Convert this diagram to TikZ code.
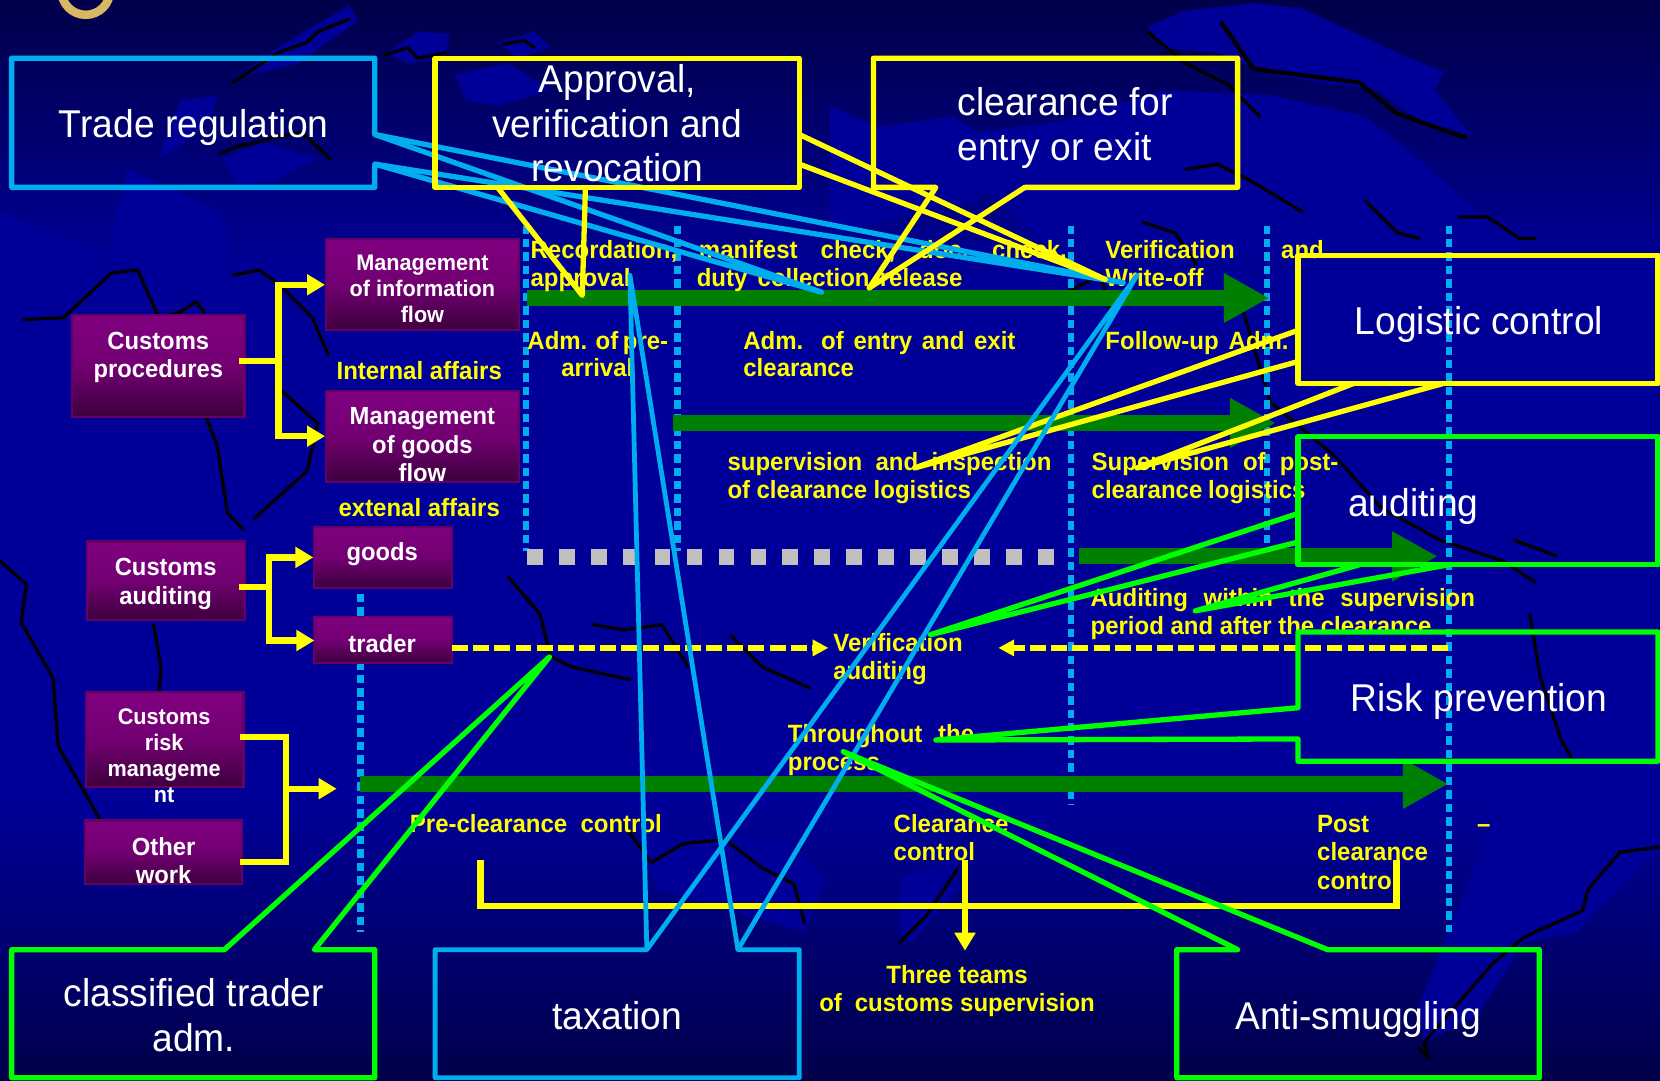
\documentclass[tikz,border=0pt]{standalone}
\usepackage{fontspec}
\setmainfont{Liberation Sans}[FakeStretch=0.96]
\usetikzlibrary{arrows.meta}
\definecolor{bgdark}{HTML}{00004A}
\definecolor{bgmid}{HTML}{000099}
\definecolor{land}{HTML}{000099}
\definecolor{cyanb}{HTML}{00AEEF}
\definecolor{limeg}{HTML}{00FF00}
\definecolor{arrowg}{HTML}{008000}
\definecolor{yel}{HTML}{FFFF00}
\definecolor{ptop}{HTML}{800080}
\definecolor{pbot}{HTML}{3D003D}
\definecolor{pedge}{HTML}{660066}
\definecolor{gold}{HTML}{D8B860}
\pgfdeclareverticalshading{bgsh}{100bp}{color(0bp)=(bgdark); color(25bp)=(bgdark); color(38bp)=(bgmid); color(62bp)=(bgmid); color(75bp)=(bgdark); color(100bp)=(bgdark)}
\tikzset{
  x=1pt,y=-1pt,
  pbox/.style={draw=pedge,line width=2pt,top color=ptop,bottom color=pbot,middle color=ptop!80!pbot,inner sep=0pt},
  ptext/.style={text=white,font=\fontsize{21.3}{24.5}\selectfont\bfseries,align=center,inner sep=0pt},
  ptextb/.style={ptext,font=\fontsize{23.4}{26.5}\selectfont\bfseries},
  ylab/.style={text=yel,font=\fontsize{23.6}{27}\selectfont\bfseries,anchor=base west,inner sep=0pt},
  yctr/.style={text=yel,font=\fontsize{23.6}{26.5}\selectfont\bfseries,align=center,inner sep=0pt},
  boxtext/.style={text=white,font=\fontsize{36.6}{42}\selectfont,align=center,inner sep=0pt},
  callY/.style={draw=yel,line width=5pt,line join=round},
  callC/.style={draw=cyanb,line width=5pt,line join=round},
  callG/.style={draw=limeg,line width=5pt,line join=round},
  dots/.style={draw=cyanb,line width=6pt,dash pattern=on 8pt off 4.7pt},
  greenarrow/.style={draw=arrowg,line width=15pt,-{Triangle[length=43pt,width=44pt]}},
  conn/.style={draw=yel,line width=6pt,line join=miter},
  connarrow/.style={draw=yel,line width=6pt,-{Triangle[length=17pt,width=19pt]}},
  dasharrow/.style={draw=yel,line width=5pt,dash pattern=on 15pt off 5pt,-{Triangle[length=15pt,width=15pt]}},
  landp/.style={fill=land,draw=none},
  shadow/.style={draw=black,line width=3pt,line join=round,line cap=round},
}
% label stretched to a given width
\newcommand{\lab}[5]{\node[ylab,yshift=-8pt] (#1) at (#2,#3) {\makebox[#4pt][s]{#5}};}
\begin{document}
\begin{tikzpicture}
\useasboundingbox (0,0) rectangle (1568,1021);
\clip (0,0) rectangle (1568,1021);
\shade[shading=bgsh] (0,0) rectangle (1568,1021);
% ---- world map
\fill[landp] (220,76)--(262,45)--(330,5)--(338,20)--(312,38)--(282,60)--(228,72)--cycle;
\fill[landp] (365,50)--(395,30)--(425,32)--(420,55)--(385,60)--cycle;
\fill[landp] (470,40)--(505,30)--(520,45)--(490,55)--cycle;
\fill[landp] (170,95)--(205,90)--(200,110)--(175,135)--(150,150)--cycle;
\fill[landp] (210,150)--(250,135)--(300,150)--(260,170)--(225,175)--cycle;
\fill[landp] (430,70)--(480,60)--(520,85)--(470,100)--(440,95)--cycle;
\fill[landp] (100,240)--(60,300)--(0,330)--(0,200)--cycle;
\fill[landp] (120,160)--(210,200)--(230,290)--(100,240)--cycle;
\fill[landp] (784,100)--(830,120)--(900,110)--(960,150)--(920,190)--(850,205)--(784,220)--cycle;
\fill[landp] (1084,25)--(1120,10)--(1184,3)--(1230,8)--(1320,50)--(1364,68)--(1355,85)--(1389,127)--(1350,120)--(1300,85)--(1250,78)--(1200,70)--(1150,50)--(1100,45)--cycle;
\fill[landp] (920,125)--(1000,115)--(1100,85)--(1200,90)--(1290,110)--(1340,150)--(1400,205)--(1450,220)--(1430,240)--(1200,240)--(1000,240)--(930,180)--cycle;
\fill[landp] (1484,640)--(1568,560)--(1568,800)--(1490,880)--(1440,890)--(1395,960)--(1345,985)--(1340,950)--(1400,800)--(1450,680)--cycle;
\fill[landp] (850,830)--(905,810)--(905,840)--(860,890)--(850,880)--cycle;
\fill[landp] (600,780)--(650,790)--(740,790)--(780,830)--(760,880)--(620,840)--cycle;
\draw[shadow] (220,78)--(262,50)--(290,40)--(300,30)--(330,18);
\draw[shadow] (363,52)--(385,45)--(395,55)--(420,50);
\draw[shadow] (475,42)--(495,38)--(505,45);
\draw[shadow] (208,145)--(225,138)--(240,135)--(258,130)--(285,125)--(312,150);
\draw[shadow] (22,302)--(60,300)--(105,258)--(130,255)--(150,300)--(170,295)--(185,285)--(193,295);
\draw[shadow] (195,395)--(205,420)--(215,485)--(230,500);
\draw[shadow] (220,260)--(245,255)--(265,270)--(295,300)--(310,335);
\draw[shadow] (265,368)--(300,400)--(290,445)--(240,490);
\draw[shadow] (0,530)--(25,552)--(20,588)--(50,640)--(55,705)--(95,775);
\draw[shadow] (145,590)--(152,630)--(150,660);
\draw[shadow] (480,545)--(510,580)--(520,620)--(540,630)--(595,642);
\draw[shadow] (590,780)--(615,815)--(645,797)--(685,793)--(720,820)--(750,835)--(760,872);
\draw[shadow] (560,590)--(590,595)--(625,590)--(650,630);
\draw[shadow] (690,600)--(720,630)--(765,650);
\draw[shadow] (850,890)--(875,865)--(905,820);
\draw[shadow,line width=4pt] (1154,22)--(1184,65)--(1284,78)--(1319,107)--(1384,130);
\draw[shadow] (1084,30)--(1120,60)--(1160,80)--(1190,110);
\draw[shadow] (1120,160)--(1150,155)--(1180,170)--(1230,200);
\draw[shadow] (1290,190)--(1320,220)--(1340,225);
\draw[shadow] (1378,205)--(1405,205)--(1435,225)--(1450,225);
\draw[shadow] (1174,293)--(1200,380)--(1260,430)--(1305,480)--(1360,510)--(1420,530)--(1450,550);
\draw[shadow] (1430,510)--(1470,525);
\draw[shadow] (1445,580)--(1455,640)--(1475,700)--(1484,715);
\draw[shadow] (1568,800)--(1530,805)--(1500,840)--(1495,860)--(1440,885)--(1410,910)--(1345,985)--(1350,1000)--(1340,990);
\draw[shadow] (1080,210)--(1110,220)--(1130,250);
\draw[shadow] (1000,280)--(1040,260)--(1050,300);
% gold ring
\draw[gold,line width=8pt] (81,-9) circle (23);
% ---- dotted verticals
\coordinate (d1a) at (497,213); \coordinate (d1b) at (497,520);
\coordinate (d2a) at (640,213); \coordinate (d2b) at (640,520);
\coordinate (d3a) at (1011.5,213); \coordinate (d3b) at (1011.5,760);
\coordinate (d4a) at (1197,213); \coordinate (d4b) at (1197,515);
\coordinate (d5a) at (1368.5,213); \coordinate (d5b) at (1368.5,880);
\coordinate (d6a) at (340.5,561); \coordinate (d6b) at (340.5,880);
\draw[dots] (d1a)--(d1b);
\draw[dots] (d2a)--(d2b);
\draw[dots] (d3a)--(d3b);
\draw[dots] (d4a)--(d4b);
\draw[dots] (d5a)--(d5b);
\draw[dots] (d6a)--(d6b);
% ---- green arrows
\coordinate (g1a) at (498,281.5); \coordinate (g1b) at (1199,281.5);
\coordinate (g2a) at (636,399.5); \coordinate (g2b) at (1205,399.5);
\coordinate (g3a) at (1019,525.5); \coordinate (g3b) at (1358,525.5);
\coordinate (g4a) at (340,740.5); \coordinate (g4b) at (1368,740.5);
\draw[greenarrow] (g1a)--(g1b);
\draw[greenarrow] (g2a)--(g2b);
\draw[greenarrow] (g3a)--(g3b);
\draw[greenarrow] (g4a)--(g4b);
% grey squares
\coordinate (sqa) at (497.5,526); \coordinate (sqb) at (996,526);
\draw[draw={rgb,255:red,192;green,192;blue,192},line width=14.5pt,dash pattern=on 15pt off 15.2pt] (sqa)--(sqb);
% ---- purple boxes
\node[pbox,minimum width=163pt,minimum height=96pt] (proc) at (149.5,345.5) {};
\node[pbox,minimum width=182pt,minimum height=86pt] (info) at (399,269) {};
\node[pbox,minimum width=182pt,minimum height=86pt] (gflow) at (399,412) {};
\node[pbox,minimum width=148.5pt,minimum height=74pt] (audit) at (156.8,548.5) {};
\node[pbox,minimum width=130pt,minimum height=57pt] (goods) at (362,526.5) {};
\node[pbox,minimum width=130pt,minimum height=43pt] (trader) at (362,604.5) {};
\node[pbox,minimum width=149pt,minimum height=89pt] (risk) at (155.5,698.5) {};
\node[pbox,minimum width=149pt,minimum height=60pt] (other) at (154.5,805) {};
\node[ptextb] (tproc) at (149.5,337.5) {Customs\\procedures};
\node[ptext] (tinfo) at (399,272.5) {Management\\of information\\flow};
\node[ptextb,font=\fontsize{23.4}{27}\selectfont\bfseries] (tgflow) at (399,420) {Management\\of goods\\flow};
\node[ptextb,font=\fontsize{23.4}{27}\selectfont\bfseries] (taudit) at (156.5,551.5) {Customs\\auditing};
\node[ptextb] (tgoods) at (361,523.5) {goods};
\node[ptextb] (ttrader) at (361,607.5) {trader};
\node[ptext] (trisk) at (155,713.5) {Customs\\risk\\manageme\\nt};
\node[ptextb] (tother) at (154.5,813) {Other\\work};
% ---- yellow labels
\node[yctr] (intl) at (396,350) {Internal affairs};
\node[yctr] (extl) at (396,479.5) {extenal affairs};
\lab{l1}{501}{236}{138}{Recordation,}
\lab{l2}{660}{236}{91}{manifest}
\lab{l3}{775}{236}{70}{check,}
\lab{l4}{868}{236}{42}{doc.}
\lab{l5}{937}{236}{66}{check.}
\lab{l6}{1044}{236}{123}{Verification}
\lab{l7}{1210}{236}{40}{and}
\lab{l8}{501}{263}{96}{approval}
\lab{l9}{658}{263}{251}{duty collection release}
\lab{l10}{1044}{263}{93}{Write-off}
\lab{l11}{498}{322}{133}{Adm. of pre-}
\lab{l12}{530}{348}{66}{arrival}
\lab{l13}{702}{322}{257}{Adm.  of  entry  and  exit}
\lab{l14}{702}{348}{104}{clearance}
\lab{l15}{1044}{322}{173}{Follow-up  Adm.}
\lab{l16}{687}{436}{306}{supervision  and  inspection}
\lab{l17}{687}{463}{230}{of clearance logistics}
\lab{l18}{1031}{436}{233}{Supervision  of  post-}
\lab{l19}{1031}{463}{202}{clearance logistics}
\lab{l20}{1030}{565}{363}{Auditing  within  the  supervision}
\lab{l21}{1030}{591}{322}{period and after the clearance}
\lab{l22}{787}{607}{123}{Verification}
\lab{l23}{787}{634}{88}{auditing}
\lab{l24}{744}{693}{176}{Throughout  the}
\lab{l25}{744}{720}{86}{process}
\lab{l26}{387}{778}{238}{Pre-clearance  control}
\lab{l27}{844}{778}{108}{Clearance}
\lab{l28}{844}{805}{76}{control}
\lab{l29}{1244}{778}{49}{Post}
\lab{l30}{1395}{778}{13}{–}
\lab{l31}{1244}{805}{104}{clearance}
\lab{l32}{1244}{832}{74}{control}
\node[yctr] (teams) at (904,936) {Three teams\\of\hspace{6pt} customs supervision};
% ---- yellow connectors
\coordinate (j1) at (263,341);
\coordinate (j2) at (254,554.5);
\coordinate (j3) at (270,696);
\coordinate (j4) at (270,814);
\coordinate (j5) at (270,745);
\coordinate (rtip) at (318,745);
\draw[conn] (226,341)--(j1);
\draw[connarrow] (j1)|-(info.west);
\draw[connarrow] (j1)|-(gflow.west);
\draw[conn] (226,554.5)--(j2);
\draw[connarrow] (j2)|-(goods.west);
\draw[connarrow] (j2)|-(297,605);
\draw[conn] (227,696)--(j3)--(j4)--(227,814);
\draw[connarrow] (j5)--(rtip);
\coordinate (vl) at (782.5,612); \coordinate (vr) at (943,612); \coordinate (dr) at (1368,612);
\draw[dasharrow] (427,612)--(vl);
\draw[dasharrow] (dr)--(vr);
\coordinate (b1) at (454,812); \coordinate (b2) at (454,855.5); \coordinate (b3) at (1319,855.5); \coordinate (b4) at (1319,812);
\draw[conn] (b1)--(b2)--(b3)--(b4);
\coordinate (s1) at (911.5,812); \coordinate (s2) at (911.5,898);
\draw[connarrow] (s1)--(s2);
% ---- callouts
\coordinate (ta) at (776,276);   \coordinate (tb) at (1061,267);
\draw[callC] (354,127)--(tb)--(354,155)--(354,177)--(11,177)--(11,55)--(354,55)--cycle;
\draw[callC] (354,127)--(ta)--(354,155);
\node[boxtext,yshift=-4pt] (ttrade) at (183,116) {Trade regulation};
\coordinate (apa) at (550,279); \coordinate (apb) at (1044,264);
\draw[callY] (411,55) rectangle (755,177);
\draw[callY] (755,127)--(apb)--(755,155);
\draw[callY] (553,177)--(apa)--(470,177);
\node[boxtext] (tappr) at (583,116.5) {Approval,\\verification and\\revocation};
\coordinate (cla) at (821,272);
\draw[callY] (825,55)--(1169,55)--(1169,177)--(968,177)--(cla)--(884,177)--(825,177)--cycle;
\node[boxtext,align=left,yshift=-4pt] (tclear) at (1006,117) {clearance for\\entry or exit};
\coordinate (lga) at (864,442); \coordinate (lgb) at (1074,442);
\draw[callY] (1226,241) rectangle (1566,362);
\draw[callY] (1226,312)--(lga)--(1226,341.5);
\draw[callY] (1279,362)--(lgb)--(1364,362);
\node[boxtext,yshift=-4pt] (tlog) at (1397,302.5) {Logistic control};
\coordinate (aua) at (879,599.5); \coordinate (aub) at (1129,577);
\draw[callG] (1226,412.5) rectangle (1566,533.5);
\draw[callG] (1226,485)--(aua)--(1226,512);
\draw[callG] (1284,533.5)--(aub)--(1368,533.5);
\node[boxtext,yshift=-4pt] (taud) at (1335,474) {auditing};
\coordinate (rsa) at (884,699);
\draw[callG] (1226,597)--(1566,597)--(1566,719)--(1226,719)--(1226,698)--(rsa)--(1226,668.5)--cycle;
\node[boxtext,yshift=-3pt] (trsk) at (1397,659.5) {Risk prevention};
\coordinate (cta) at (519,620.5);
\draw[callG] (11,897)--(212,897)--(cta)--(297,897)--(354,897)--(354,1018)--(11,1018)--cycle;
\node[boxtext] (tclass) at (183,959) {classified trader\\adm.};
\coordinate (txa) at (595,260); \coordinate (txb) at (1074,260);
\draw[callC,line width=4.5pt] (411,897)--(611,897)--(txb)--(697,897)--(755,897)--(755,1018)--(411,1018)--cycle;
\draw[callC,line width=4.5pt] (611,897)--(txa)--(697,897);
\node[boxtext] (ttax) at (583,959.5) {taxation};
\coordinate (ana) at (796.5,710);
\draw[callG] (1111.5,897)--(1169,897)--(ana)--(1254,897)--(1454,897)--(1454,1018)--(1111.5,1018)--cycle;
\node[boxtext,yshift=-3pt] (tanti) at (1283,960) {Anti-smuggling};
\end{tikzpicture}
\end{document}
